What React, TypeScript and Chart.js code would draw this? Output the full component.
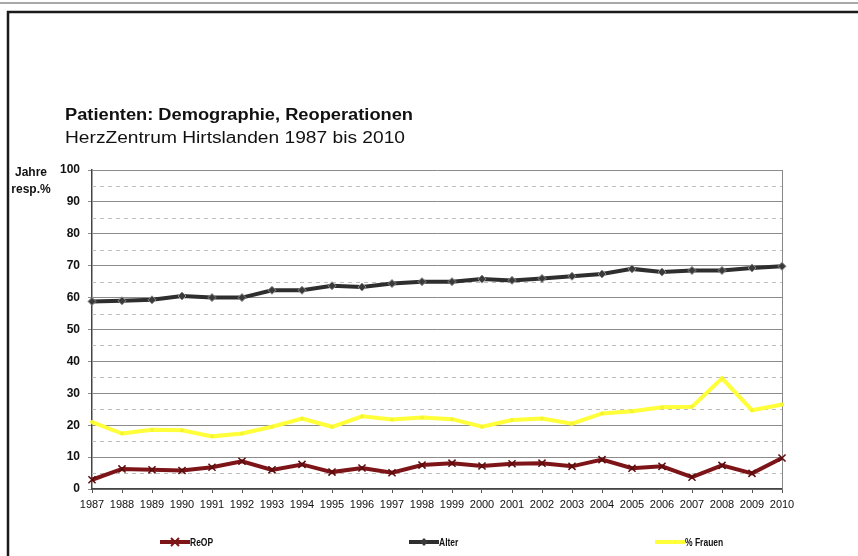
import React, { useEffect, useRef } from 'react';
import { Chart, registerables } from 'chart.js';
Chart.register(...registerables);

const years = ['1987','1988','1989','1990','1991','1992','1993','1994','1995','1996','1997','1998','1999','2000','2001','2002','2003','2004','2005','2006','2007','2008','2009','2010'];
const reop = [2.9,6.3,6.0,5.8,6.8,8.7,6.0,7.7,5.3,6.6,5.1,7.5,8.1,7.2,7.9,8.1,7.1,9.2,6.5,7.1,3.7,7.4,4.9,9.7];
const alter = [58.8,59.0,59.3,60.5,60.0,60.0,62.3,62.3,63.7,63.3,64.4,65.0,65.0,65.8,65.4,66.0,66.7,67.4,69.0,68.0,68.5,68.5,69.3,69.8];
const frauen = [21.0,17.4,18.6,18.4,16.5,17.4,19.5,22.1,19.5,22.8,21.8,22.4,21.9,19.5,21.6,22.1,20.5,23.7,24.4,25.6,25.8,34.7,24.7,26.5];
const dashedLevels = [5,15,25,35,45,55,65,75,85,95];

const title = 'Patienten: Demographie, Reoperationen';
const subtitle = 'HerzZentrum Hirtslanden 1987 bis 2010';
const axisTitle = ['Jahre', 'resp.%'];
const legendX = [160, 409, 655];

const NARROW = '"Liberation Sans Narrow", "Liberation Sans", Arial, sans-serif';
const SANS = '"Liberation Sans", Arial, sans-serif';

function fitText(ctx: any, text: string, x: number, y: number, width: number) {
  const w = ctx.measureText(text).width;
  ctx.save();
  ctx.translate(x, y);
  ctx.scale(width / w, 1);
  ctx.fillText(text, 0, 0);
  ctx.restore();
}

function narrowText(ctx: any, text: string, x: number, y: number, sx: number) {
  ctx.save();
  ctx.translate(x, y);
  ctx.scale(sx, 1);
  ctx.fillText(text, 0, 0);
  ctx.restore();
}

const deco = {
  id: 'deco',
  beforeDraw(chart: any) {
    const ctx = chart.ctx;
    ctx.save();
    ctx.fillStyle = '#fff';
    ctx.fillRect(0, 0, chart.width, chart.height);
    ctx.strokeStyle = '#a8a8a8';
    ctx.lineWidth = 2;
    ctx.beginPath(); ctx.moveTo(0, 3); ctx.lineTo(chart.width, 3); ctx.stroke();
    ctx.strokeStyle = '#1a1a1a';
    ctx.lineWidth = 2.5;
    ctx.beginPath(); ctx.moveTo(8, chart.height); ctx.lineTo(8, 12); ctx.lineTo(chart.width, 12); ctx.stroke();
    ctx.fillStyle = '#111';
    ctx.textBaseline = 'middle';
    ctx.textAlign = 'left';
    ctx.font = 'bold 16px ' + SANS;
    fitText(ctx, title, 65, 116, 348);
    ctx.font = '16px ' + SANS;
    fitText(ctx, subtitle, 65, 139, 340);
    ctx.font = 'bold 12px ' + SANS;
    ctx.textAlign = 'center';
    ctx.fillText(axisTitle[0], 31, 173);
    ctx.fillText(axisTitle[1], 31, 190);
    ctx.restore();
  },
  beforeDatasetsDraw(chart: any) {
    const ctx = chart.ctx;
    const a = chart.chartArea;
    const y = chart.scales.y;
    ctx.save();
    ctx.strokeStyle = '#bdbdbd';
    ctx.lineWidth = 1;
    ctx.setLineDash([4, 4]);
    dashedLevels.forEach((v) => {
      const py = Math.round(y.getPixelForValue(v)) + 0.5;
      ctx.beginPath(); ctx.moveTo(a.left, py); ctx.lineTo(a.right, py); ctx.stroke();
    });
    ctx.setLineDash([]);
    ctx.strokeStyle = '#888';
    ctx.beginPath(); ctx.moveTo(a.right + 0.5, a.top); ctx.lineTo(a.right + 0.5, a.bottom); ctx.stroke();
    ctx.restore();
  },
  afterDraw(chart: any) {
    const ctx = chart.ctx;
    ctx.save();
    const ly = 542;
    chart.data.datasets.forEach((ds: any, i: number) => {
      const x0 = legendX[i];
      ctx.strokeStyle = ds.borderColor;
      ctx.lineWidth = 4;
      ctx.beginPath(); ctx.moveTo(x0, ly); ctx.lineTo(x0 + 30, ly); ctx.stroke();
      if (ds.pointStyle === 'crossRot') {
        ctx.lineWidth = 2;
        ctx.beginPath();
        ctx.moveTo(x0 + 11, ly - 4); ctx.lineTo(x0 + 19, ly + 4);
        ctx.moveTo(x0 + 19, ly - 4); ctx.lineTo(x0 + 11, ly + 4);
        ctx.stroke();
      } else if (ds.pointStyle === 'rectRot') {
        ctx.fillStyle = ds.pointBackgroundColor;
        ctx.beginPath();
        ctx.moveTo(x0 + 15, ly - 4); ctx.lineTo(x0 + 19, ly); ctx.lineTo(x0 + 15, ly + 4); ctx.lineTo(x0 + 11, ly);
        ctx.closePath(); ctx.fill();
      }
      ctx.fillStyle = '#111';
      ctx.font = 'bold 10px ' + NARROW;
      ctx.textAlign = 'left';
      ctx.textBaseline = 'middle';
      narrowText(ctx, ds.label, x0 + 30, ly + 1, 0.85);
    });
    ctx.restore();
  },
};

export default function App() {
  const ref = useRef<HTMLCanvasElement | null>(null);
  useEffect(() => {
    if (!ref.current) return;
    const chart = new Chart(ref.current, {
      type: 'line',
      data: {
        labels: years,
        datasets: [
          {
            label: 'ReOP', data: reop, borderColor: '#7d1518', backgroundColor: '#7d1518',
            borderWidth: 4, pointStyle: 'crossRot', pointRadius: 5, pointBorderWidth: 1.5,
            pointBorderColor: '#5a0c0e', pointBackgroundColor: '#7d1518', tension: 0, clip: false,
          },
          {
            label: 'Alter', data: alter, borderColor: '#2e2e2e', backgroundColor: '#2e2e2e',
            borderWidth: 4, pointStyle: 'rectRot', pointRadius: 4, pointBorderWidth: 1,
            pointBorderColor: '#8a8a8a', pointBackgroundColor: '#3a3a3a', tension: 0, clip: false,
          },
          {
            label: '% Frauen', data: frauen, borderColor: '#ffff3a', backgroundColor: '#ffff3a',
            borderWidth: 4, pointStyle: 'circle', pointRadius: 2, pointBorderWidth: 0,
            pointBackgroundColor: '#f5f530', tension: 0, clip: false,
          },
        ],
      },
      options: {
        animation: false,
        responsive: false,
        maintainAspectRatio: false,
        layout: { padding: { top: 170, left: 0, right: 76, bottom: 37 } },
        plugins: { legend: { display: false }, title: { display: false }, tooltip: { enabled: false } },
        scales: {
          x: {
            type: 'category',
            offset: false,
            afterFit: (s: any) => { s.height = 30; },
            grid: { display: true, drawOnChartArea: false, tickLength: 4, color: '#555' },
            border: { display: true, color: '#444', width: 1.5 },
            ticks: { color: '#111', font: { family: NARROW, size: 11 }, padding: 5, maxRotation: 0, autoSkip: false },
          },
          y: {
            min: 0, max: 100,
            afterFit: (s: any) => { s.width = 92; },
            grid: { color: '#8c8c8c', lineWidth: 1, tickLength: 4 },
            border: { display: true, color: '#444', width: 1.5 },
            ticks: { stepSize: 10, color: '#111', font: { family: SANS, size: 12, weight: 'bold' }, padding: 8 },
          },
        },
      },
      plugins: [deco],
    });
    return () => chart.destroy();
  }, []);
  return (
    <div style={{ position: 'fixed', left: 0, top: 0, width: 858, height: 556, background: '#fff' }}>
      <canvas ref={ref} width={858} height={556} style={{ width: 858, height: 556, display: 'block' }} />
    </div>
  );
}
